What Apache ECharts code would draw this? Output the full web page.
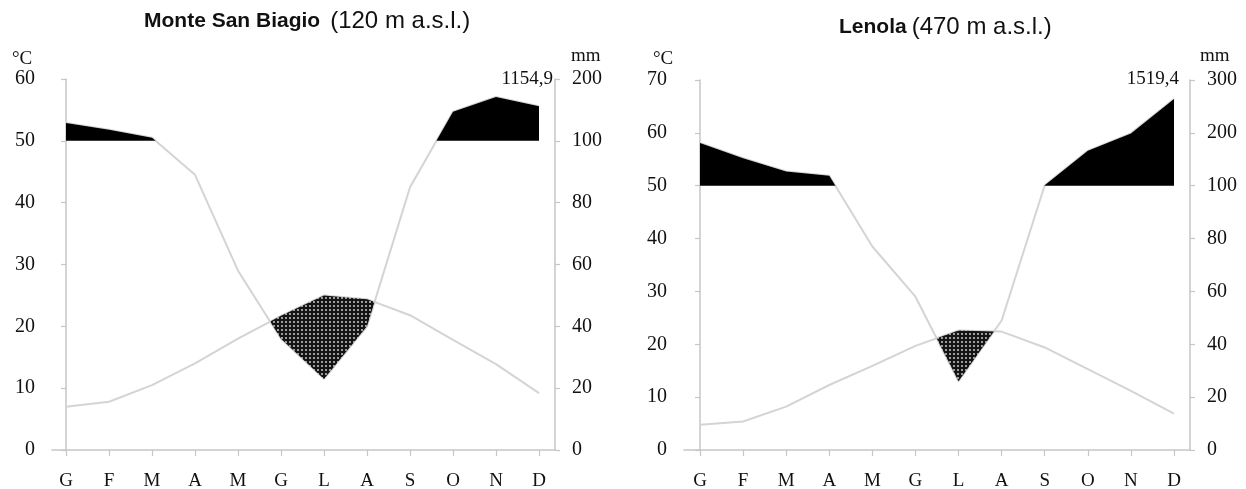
<!DOCTYPE html>
<html><head><meta charset="utf-8">
<script src="https://cdn.jsdelivr.net/npm/echarts@6.0.0/dist/echarts.min.js"></script>
<style>html,body{margin:0;padding:0;background:#fff}#c{width:1246px;height:489px}</style>
</head><body><div id="c"></div>
<script>
// ---- data ----
const months = ['G','F','M','A','M','G','L','A','S','O','N','D'];
const tempMSB = [7.0, 7.8, 10.5, 14.0, 18.0, 21.7, 25.0, 24.4, 21.8, 17.8, 13.9, 9.2];
const precMSB = [129, 118, 105, 89, 58, 36, 23, 40, 85, 147, 171, 156];
const tempLen = [4.8, 5.4, 8.2, 12.3, 15.9, 19.7, 22.6, 22.4, 19.4, 15.3, 11.2, 6.9];
const precLen = [181, 152, 127, 119, 77, 58, 26, 49, 101, 166, 199, 264];
const totalMSB = '1154,9';
const totalLen = '1519,4';
const titleMSB = ['Monte San Biagio', '(120 m a.s.l.)'];
const titleLen = ['Lenola', '(470 m a.s.l.)'];

// ---- helpers ----
const AXIS_COLOR = '#c6c6c6';
const LINE_COLOR = '#d4d4d4';
const SERIF = '"Liberation Serif","Times New Roman",serif';
const SANS = '"Liberation Sans",Arial,sans-serif';
const idx = months.map((m, i) => i);

// Walter-Lieth scale: 20 mm = 10 °C up to 100 mm, then 100 mm = 10 °C
function scaleP(p) { return p <= 100 ? p / 2 : 50 + (p - 100) / 10; }
function mmLabel(v) { return v <= 50 ? String(v * 2) : String(100 + (v - 50) * 10); }

// polygons (in data space) where up > lo, both piecewise linear over indices
function positiveRegions(up, lo) {
  const polys = []; let top = [], bot = [];
  for (let i = 0; i < up.length; i++) {
    const d = up[i] - lo[i];
    if (i > 0) {
      const dp = up[i - 1] - lo[i - 1];
      if ((dp > 0) !== (d > 0)) {
        const t = dp / (dp - d);
        const x = i - 1 + t;
        const y = up[i - 1] + t * (up[i] - up[i - 1]);
        top.push([x, y]); bot.push([x, y]);
        if (dp > 0) { polys.push(top.concat(bot.reverse())); top = []; bot = []; }
      }
    }
    if (d > 0) { top.push([i, up[i]]); bot.push([i, lo[i]]); }
  }
  if (top.length) polys.push(top.concat(bot.reverse()));
  return polys;
}

// dotted pattern for arid period
const pc = document.createElement('canvas');
pc.width = 4; pc.height = 4;
const g2 = pc.getContext('2d');
g2.fillStyle = '#141414'; g2.fillRect(0, 0, 4, 4);
g2.fillStyle = '#e0e0e0'; g2.beginPath(); g2.arc(2, 2, 0.9, 0, Math.PI * 2); g2.fill();
const hatch = { image: pc, repeat: 'repeat' };

function regionSeries(up, lo, fill, xi, yi) {
  return {
    type: 'custom', coordinateSystem: 'cartesian2d', xAxisIndex: xi, yAxisIndex: yi,
    data: [[0, 0]], silent: true, z: 5,
    renderItem: function (params, api) {
      if (params.dataIndex !== 0) return;
      const polys = positiveRegions(up, lo);
      return {
        type: 'group',
        children: polys.map(p => ({
          type: 'polygon',
          shape: { points: p.map(pt => api.coord(pt)) },
          style: { fill: fill, stroke: null }
        }))
      };
    }
  };
}

function lineSeries(vals, xi, yi) {
  return {
    type: 'line', xAxisIndex: xi, yAxisIndex: yi, z: 2,
    data: vals.map((v, i) => [i, v]), showSymbol: false, symbol: 'none',
    lineStyle: { color: LINE_COLOR, width: 2 }, silent: true
  };
}

function xAxisCfg(gi, min, max) {
  return {
    gridIndex: gi, type: 'value', min: min, max: max,
    axisLine: { show: true, lineStyle: { color: AXIS_COLOR, width: 1.5 } },
    axisTick: { show: true, customValues: idx, length: 6, lineStyle: { color: AXIS_COLOR, width: 1.2 } },
    axisLabel: { customValues: idx, formatter: v => months[Math.round(v)], margin: 22,
      fontFamily: SERIF, fontSize: 19, color: '#111' },
    splitLine: { show: false }
  };
}
function yAxisCfg(gi, max, pos) {
  return {
    gridIndex: gi, type: 'value', min: 0, max: max, interval: 10, position: pos,
    axisLine: { show: true, lineStyle: { color: AXIS_COLOR, width: 1.5 } },
    axisTick: { show: true, length: 5, lineStyle: { color: AXIS_COLOR, width: 1.2 } },
    axisLabel: { margin: 17, fontFamily: SERIF, fontSize: 20, color: '#111',
      formatter: pos === 'right' ? mmLabel : (v => String(v)) },
    splitLine: { show: false }
  };
}

const pMSB = precMSB.map(scaleP);
const pLen = precLen.map(scaleP);
const fifty = months.map(() => 50);

const chart = echarts.init(document.getElementById('c'), null, { renderer: 'canvas' });
const richTitle = {
  b: { fontFamily: SANS, fontWeight: 'bold', fontSize: 21, color: '#111' },
  n: { fontFamily: SANS, fontWeight: 'normal', fontSize: 24, color: '#111' }
};
chart.setOption({
  animation: false,
  backgroundColor: '#fff',
  title: [
    { text: '{b|' + titleMSB[0] + '}  {n|' + titleMSB[1] + '}', left: 139, top: 4, textStyle: { rich: richTitle } },
    { text: '{b|' + titleLen[0] + '} {n|' + titleLen[1] + '}', left: 834, top: 10, textStyle: { rich: richTitle } }
  ],
  grid: [
    { left: 52, top: 79, width: 503, height: 371, outerBoundsMode: 'none', containLabel: false },
    { left: 684, top: 80, width: 506, height: 370, outerBoundsMode: 'none', containLabel: false }
  ],
  xAxis: [ xAxisCfg(0, -0.326, 11.372), xAxisCfg(1, -0.371, 11.371) ],
  yAxis: [ yAxisCfg(0, 60, 'left'), yAxisCfg(0, 60, 'right'), yAxisCfg(1, 70, 'left'), yAxisCfg(1, 70, 'right') ],
  graphic: [
    { type: 'text', left: 12, top: 50, style: { text: '°C', font: '19px ' + SERIF, fill: '#111' } },
    { type: 'text', left: 571, top: 47, style: { text: 'mm', font: '19px ' + SERIF, fill: '#111' } },
    { type: 'text', right: 693, top: 70, style: { text: totalMSB, font: '19px ' + SERIF, fill: '#111' } },
    { type: 'text', left: 653, top: 50, style: { text: '°C', font: '19px ' + SERIF, fill: '#111' } },
    { type: 'text', left: 1200, top: 47, style: { text: 'mm', font: '19px ' + SERIF, fill: '#111' } },
    { type: 'text', right: 67, top: 70, style: { text: totalLen, font: '19px ' + SERIF, fill: '#111' } }
  ],
  series: [
    lineSeries(tempMSB, 0, 0),
    lineSeries(pMSB, 0, 0),
    regionSeries(pMSB, fifty, '#000', 0, 0),
    regionSeries(tempMSB, pMSB, hatch, 0, 0),
    lineSeries(tempLen, 1, 2),
    lineSeries(pLen, 1, 2),
    regionSeries(pLen, fifty, '#000', 1, 2),
    regionSeries(tempLen, pLen, hatch, 1, 2)
  ]
});
</script></body></html>
